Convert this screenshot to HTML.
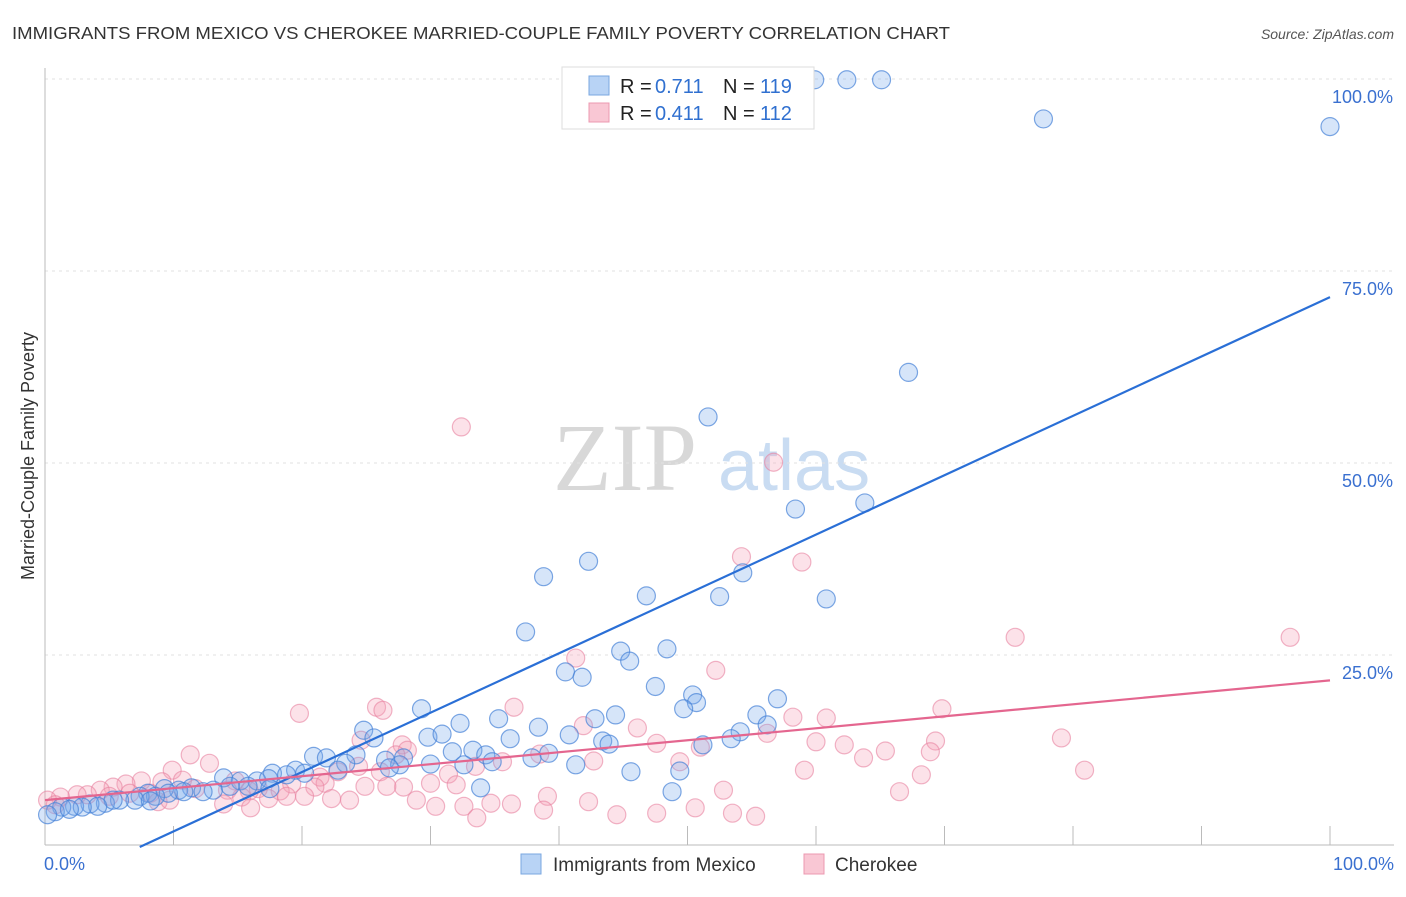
<!DOCTYPE html>
<html><head><meta charset="utf-8"><style>
body{margin:0;background:#fff;font-family:"Liberation Sans",sans-serif;}
</style></head><body>
<svg id="c" width="1406" height="892" font-family="Liberation Sans, sans-serif">
<text x="12" y="39" font-size="17.5" fill="#333" textLength="938" lengthAdjust="spacingAndGlyphs">IMMIGRANTS FROM MEXICO VS CHEROKEE MARRIED-COUPLE FAMILY POVERTY CORRELATION CHART</text>
<text x="1394" y="39" font-size="14" fill="#555" font-style="italic" text-anchor="end">Source: ZipAtlas.com</text>
<text x="34" y="456" font-size="18" fill="#333" text-anchor="middle" transform="rotate(-90 34 456)">Married-Couple Family Poverty</text>
<g>
<text x="553" y="490" font-size="96" fill="#d8d8d8" style="font-family:'Liberation Serif',serif">ZIP</text>
<text x="718" y="490" font-size="72" fill="#c9dcf2">atlas</text>
</g>
<g id="grid"></g><g id="pts"></g><g id="lines"></g>
<g>
<rect x="562" y="67" width="252" height="62" fill="#fff" stroke="#ddd"/>
<rect x="589" y="76" width="20" height="19" fill="#b8d3f5" stroke="#7aa7e0"/>
<rect x="589" y="103" width="20" height="19" fill="#f9c7d4" stroke="#ec98b0"/>
<text x="620" y="93" font-size="20" fill="#222">R =</text>
<text x="655" y="93" font-size="20" fill="#3070d0">0.711</text>
<text x="723" y="93" font-size="20" fill="#222">N =</text>
<text x="760" y="93" font-size="20" fill="#3070d0">119</text>
<text x="620" y="120" font-size="20" fill="#222">R =</text>
<text x="655" y="120" font-size="20" fill="#3070d0">0.411</text>
<text x="723" y="120" font-size="20" fill="#222">N =</text>
<text x="760" y="120" font-size="20" fill="#3070d0">112</text>
</g>
<g>
<rect x="521" y="854" width="20" height="20" fill="#b8d3f5" stroke="#7aa7e0"/>
<text x="553" y="871" font-size="19" fill="#333">Immigrants from Mexico</text>
<rect x="804" y="854" width="20" height="20" fill="#f9c7d4" stroke="#ec98b0"/>
<text x="835" y="871" font-size="19" fill="#333">Cherokee</text>
</g>
</svg>
<script>
const blueX=[57.6,59.9,62.4,65.1,77.7,100,67.2,51.6,58.4,63.8,42.3,38.8,54.3,46.8,52.5,60.8,37.4,44.8,48.4,45.5,40.5,41.8,47.5,50.4,50.7,49.7,57,29.3,44.4,55.4,35.3,42.8,32.3,38.4,24.8,56.2,54.1,25.6,29.8,30.9,36.2,40.8,43.4,43.9,53.4,51.2,20.9,21.9,24.2,27.9,31.7,33.3,34.3,39.2,26.5,27.6,30,32.6,34.8,37.9,41.3,23.4,26.8,19.5,22.8,17.7,18.8,20.2,45.6,49.4,13.9,15.2,16.5,17.4,14.4,15.8,13.1,11.4,10.4,9.3,8,12.3,10.8,9.6,8.6,7.4,33.9,48.8,17.5,7,5.8,4.7,3.5,2.3,1.3,0.8,0.2,8.2,5.3,4.1,2.9,1.9];
const blueY=[99.9,99.9,99.9,99.9,94.8,93.8,61.8,56,44,44.8,37.2,35.2,35.7,32.7,32.6,32.3,28,25.5,25.8,24.2,22.8,22.1,20.9,19.8,18.8,18,19.3,18,17.2,17.2,16.7,16.7,16.1,15.6,15.2,15.9,15,14.2,14.3,14.7,14.1,14.6,13.8,13.4,14.1,13.3,11.8,11.6,12,11.6,12.4,12.6,12,12.2,11.3,10.7,10.8,10.7,11.1,11.6,10.7,10.9,10.3,10,10,9.6,9.4,9.6,9.8,9.9,9,8.6,8.6,8.9,7.9,7.9,7.4,7.7,7.4,7.6,7,7.2,7.2,7,6.6,6.6,7.7,7.2,7.6,6.1,6.1,5.7,5.6,5.3,5.2,4.6,4.2,6,6.1,5.3,5.2,4.9];
const pinkX=[32.4,56.7,54.2,58.9,75.5,96.9,41.3,52.2,19.8,25.8,26.3,36.5,69.8,58.2,60.8,41.9,46.1,56.2,47.6,60,62.2,69.3,79.1,65.4,68.9,51,11.3,12.8,9.9,27.8,28.2,27.3,24.6,63.7,49.4,42.7,38.5,35.6,33.5,31.4,24.4,22.8,21.4,26.1,59.1,68.2,80.9,32,30,27.9,26.6,24.9,21.8,21,19.2,18.3,16.6,15.9,14.8,14.2,10.7,9.1,7.5,6.3,5.3,4.3,3.3,2.5,1.2,0.2,6.6,5,8.2,8.8,15.3,17.4,18.8,20.2,22.3,23.7,28.9,30.4,32.6,34.7,36.3,39.1,42.3,44.5,47.6,50.6,52.8,53.5,55.3,33.6,38.8,13.9,16,66.5,0.8,9.7,11.7];
const pinkY=[54.7,50.1,37.8,37.1,27.3,27.3,24.6,23,17.4,18.2,17.8,18.2,18,16.9,16.8,15.8,15.5,14.8,13.5,13.7,13.3,13.8,14.2,12.5,12.4,13,12,10.9,10,13.3,12.6,12,13.9,11.6,11.1,11.2,12.1,11.1,10.5,9.5,10.5,9.8,9.1,9.8,10,9.4,10,8.1,8.3,7.8,7.9,7.9,8.3,7.8,8.2,7.3,7.6,7.3,8.6,7.4,8.7,8.5,8.6,8.2,7.8,7.4,6.8,6.8,6.5,6.1,7,6.6,7,5.9,6.5,6.3,6.6,6.6,6.3,6.1,6.1,5.3,5.3,5.7,5.6,6.6,5.9,4.2,4.4,5.1,7.4,4.4,4,3.8,4.8,5.6,5.1,7.2,5.5,6.1,7.6];
const blueTrend=[-5.7,0.773]; // intercept, slope
const pinkTrend=[6.1,0.156];
const yTicks=[25,50,75,100];
const yTickLabels=["25.0%","50.0%","75.0%","100.0%"];
const xTicks=[0,10,20,30,40,50,60,70,80,90,100];

const NS="http://www.w3.org/2000/svg";
const sx=v=>45+v*12.85, sy=v=>847-v*7.68;
function mk(t,a,p){const e=document.createElementNS(NS,t);for(const k in a)e.setAttribute(k,a[k]);p.appendChild(e);return e;}
const grid=document.getElementById('grid');
yTicks.forEach((t,i)=>{
 const l=mk('line',{x1:45,x2:1394,y1:sy(t),y2:sy(t),stroke:'#e2e2e2','stroke-dasharray':'3,4'},grid);
 
 
 const tx=mk('text',{x:1393,y:sy(t)+24,'font-size':18,fill:'#3a70d0','text-anchor':'end'},grid);
 tx.textContent=yTickLabels[i];
 
 
});
const ax=mk('line',{x1:45,x2:1394,y1:845,y2:845,stroke:'#bbb'},grid);


const ay=mk('line',{x1:45,x2:45,y1:68,y2:845,stroke:'#bbb'},grid);


xTicks.forEach(t=>{
 const l=mk('line',{x1:sx(t),x2:sx(t),y1:826,y2:845,stroke:'#bbb'},grid);
 
 
});
[[0,"0.0%","start"],[100,"100.0%","end"]].forEach(d=>{
 const tx=mk('text',{x:d[0]==0?44:1394,y:870,'font-size':18,fill:'#3a70d0','text-anchor':d[2]},grid);
 tx.textContent=d[1];
 
 
});
const pts=document.getElementById('pts');
pinkX.forEach((x,i)=>{
 const c=mk('circle',{cx:sx(x),cy:sy(pinkY[i]),r:9,fill:'rgba(244,160,182,0.3)',stroke:'rgba(232,130,160,0.6)','stroke-width':1.2},pts);
 
 
});
blueX.forEach((x,i)=>{
 const c=mk('circle',{cx:sx(x),cy:sy(blueY[i]),r:9,fill:'rgba(120,170,235,0.3)',stroke:'rgba(70,130,215,0.7)','stroke-width':1.2},pts);
 
 
});
const lines=document.getElementById('lines');
const x0=-blueTrend[0]/blueTrend[1];
const bl=mk('line',{x1:sx(x0),y1:sy(0),x2:sx(100),y2:sy(blueTrend[0]+blueTrend[1]*100),stroke:'#2a6fd6','stroke-width':2.2},lines);


const pl=mk('line',{x1:sx(0),y1:sy(pinkTrend[0]),x2:sx(100),y2:sy(pinkTrend[0]+pinkTrend[1]*100),stroke:'#e4668f','stroke-width':2.2},lines);


</script>
</body></html>
